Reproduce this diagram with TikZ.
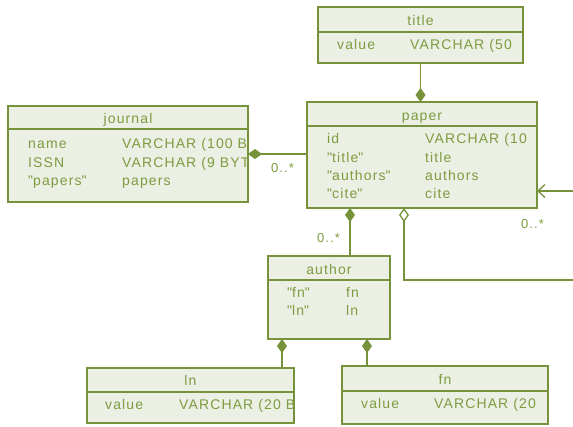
\documentclass[tikz,border=0pt]{standalone}
\usepackage{fontspec}
\setmainfont{Liberation Sans}[LetterSpace=8]
\usetikzlibrary{arrows.meta,calc}
\definecolor{umlline}{RGB}{118,146,58}
\definecolor{umlfill}{RGB}{236,239,228}
\definecolor{umltext}{RGB}{126,156,64}
\newcommand{\qt}[1]{\textquotedbl#1\textquotedbl}
\tikzset{
  comptip/.tip={Diamond[length=14pt,width=10pt]},
  aggrtip/.tip={Diamond[open,length=14pt,width=10pt,fill=white]},
  navtip/.tip={Straight Barb[length=7pt,width=13pt]},
}

\begin{document}
\begin{tikzpicture}[x=1pt,y=-1pt,
  classbox/.style={rectangle, draw=umlline, fill=umlfill, line width=1.3pt,
                   inner sep=0pt, outer sep=0pt},
  divider/.style={draw=umlline, line width=1.3pt},
  hdr/.style={text=umltext, font=\fontsize{14}{16}\selectfont, inner sep=0pt, anchor=base},
  txt/.style={text=umltext, font=\fontsize{14}{16}\selectfont, inner sep=0pt, anchor=base west},
  mult/.style={text=umltext, font=\fontsize{13}{15}\selectfont, inner sep=0pt, anchor=base west},
  conn/.style={draw=umlline, line width=1.3pt},
]
\useasboundingbox (0,0) rectangle (573,426);

% ---- class boxes ----
\node[classbox, minimum width=205pt, minimum height=56pt]  (title)   at (420.5,35)   {};
\node[classbox, minimum width=240pt, minimum height=96pt]  (journal) at (128,154)    {};
\node[classbox, minimum width=230pt, minimum height=106pt] (paper)   at (422,155)    {};
\node[classbox, minimum width=122pt, minimum height=83pt]  (author)  at (329,297.5)  {};
\node[classbox, minimum width=207pt, minimum height=55pt]  (ln)      at (190.5,395.5){};
\node[classbox, minimum width=206pt, minimum height=58pt]  (fn)      at (445,395)    {};

% ---- header dividers ----
\draw[divider] (title.west |- 0,32)    -- (title.east |- 0,32);
\draw[divider] (journal.west |- 0,129) -- (journal.east |- 0,129);
\draw[divider] (paper.west |- 0,126)   -- (paper.east |- 0,126);
\draw[divider] (author.west |- 0,280)  -- (author.east |- 0,280);
\draw[divider] (ln.west |- 0,392)      -- (ln.east |- 0,392);
\draw[divider] (fn.west |- 0,391)      -- (fn.east |- 0,391);

% ---- headers ----
\node[hdr] (title-h)   at (420.5,25) {title};
\node[hdr] (journal-h) at (128,123)  {journal};
\node[hdr] (paper-h)   at (422,120)  {paper};
\node[hdr] (author-h)  at (329,274)  {author};
\node[hdr] (ln-h)      at (190.5,385){ln};
\node[hdr] (fn-h)      at (445,384)  {fn};

% ---- attributes (cut off at the right border of each box) ----
\begin{scope}
  \clip (title.south west) rectangle ([xshift=-1pt]title.north east);
  \node[txt] (title-a1) at (337,49) {value};
  \node[txt] (title-t1) at (410,49) {VARCHAR (50};
\end{scope}
\begin{scope}
  \clip (journal.south west) rectangle ([xshift=-1pt]journal.north east);
  \node[txt] (journal-a1) at (28,148) {name};
  \node[txt] (journal-t1) at (122,148) {VARCHAR (100 B};
  \node[txt] (journal-a2) at (28,167) {ISSN};
  \node[txt] (journal-t2) at (122,167) {VARCHAR (9 BYT};
  \node[txt] (journal-a3) at (28,185) {\qt{papers}};
  \node[txt] (journal-t3) at (122,185) {papers};
\end{scope}
\begin{scope}
  \clip (paper.south west) rectangle ([xshift=-1pt]paper.north east);
  \node[txt] (paper-a1) at (327,143.5) {id};
  \node[txt] (paper-t1) at (425,143.5) {VARCHAR (10};
  \node[txt] (paper-a2) at (327,162) {\qt{title}};
  \node[txt] (paper-t2) at (425,162) {title};
  \node[txt] (paper-a3) at (327,180) {\qt{authors}};
  \node[txt] (paper-t3) at (425,180) {authors};
  \node[txt] (paper-a4) at (327,198.5) {\qt{cite}};
  \node[txt] (paper-t4) at (425,198.5) {cite};
\end{scope}
\node[txt] (author-a1) at (287,297) {\qt{fn}};
\node[txt] (author-t1) at (346,297) {fn};
\node[txt] (author-a2) at (287,315) {\qt{ln}};
\node[txt] (author-t2) at (346,315) {ln};
\begin{scope}
  \clip (ln.south west) rectangle ([xshift=-1pt]ln.north east);
  \node[txt] (ln-a1) at (105,409) {value};
  \node[txt] (ln-t1) at (179,409) {VARCHAR (20 B};
\end{scope}
\begin{scope}
  \clip (fn.south west) rectangle ([xshift=-1pt]fn.north east);
  \node[txt] (fn-a1) at (361,408) {value};
  \node[txt] (fn-t1) at (434,408) {VARCHAR (20};
\end{scope}

% ---- attachment points on the box borders ----
\coordinate (paperAuthor) at ($(paper.south west)+(43,0)$);
\coordinate (paperCite)   at ($(paper.south west)+(97,0)$);
\coordinate (authorLn)    at ($(author.south west)+(14,0)$);
\coordinate (authorFn)    at ($(author.south west)+(99,0)$);

% ---- free ends leaving the drawing on the right ----
\coordinate (citeIn)  at (573,191);
\coordinate (citeOut) at (573,280);

% ---- connectors ----
\draw[conn, -comptip] (title.south) -- (title.south |- paper.north);
\draw[conn, comptip-] (journal.east) -- (journal.east -| paper.west);
\draw[conn, comptip-] (paperAuthor) -- (paperAuthor |- author.north);
\draw[conn, aggrtip-] (paperCite) |- (citeOut);
\draw[conn, -navtip] (citeIn) -- (citeIn -| paper.east);
\draw[conn, comptip-] (authorLn) -- (authorLn |- ln.north);
\draw[conn, comptip-] (authorFn) -- (authorFn |- fn.north);

% ---- multiplicities ----
\node[mult] (m-journal) at (271,172) {0..*};
\node[mult] (m-author)  at (317,242) {0..*};
\node[mult] (m-cite)    at (521,228) {0..*};
\end{tikzpicture}
\end{document}
